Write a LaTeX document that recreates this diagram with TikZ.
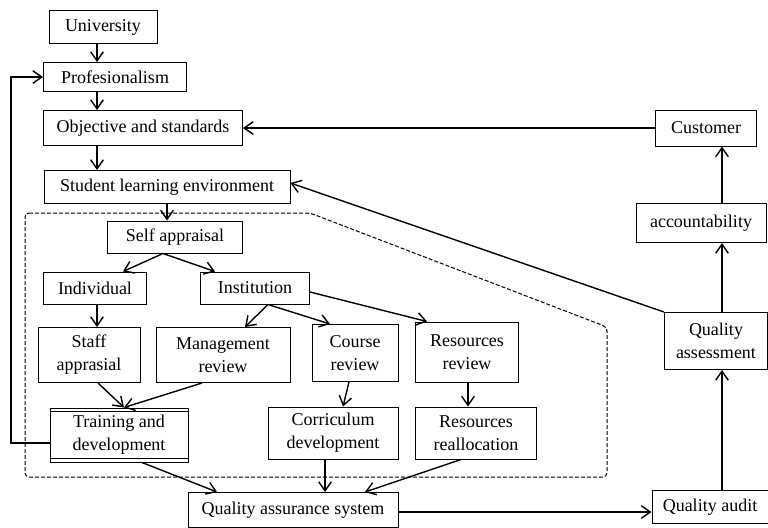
\documentclass[tikz,border=0pt]{standalone}
\usepackage{fontspec}
\setmainfont{Liberation Serif}
\usetikzlibrary{positioning,
        shapes,
        arrows.meta}

\begin{document}
\begin{tikzpicture}[x=0.5pt,y=-0.5pt,
        box/.style={draw,line width=0.5pt,inner sep=1pt,align=center,
                font=\fontsize{9}{11.5}\selectfont},
        arr/.style={line width=0.7pt,-{Straight Barb[angle=70:5.5pt,line width=0.7pt]}}]
        \useasboundingbox (0,0) rectangle (768,527);

        \node [box,minimum width=54pt,minimum height=16.5pt] (univ) at (103,27) {University};
        \node [box,minimum width=71.5pt,minimum height=14.5pt] (prof) at (115,77) {Profesionalism};
        \node [box,minimum width=99.5pt,minimum height=17.5pt] (obj) at (143,128) {Objective and standards};
        \node [box,minimum width=123pt,minimum height=16.5pt] (stud) at (167,187) {Student learning environment};
        \node [box,minimum width=67.5pt,minimum height=16pt] (self) at (175,237) {Self appraisal};
        \node [box,minimum width=51.5pt,minimum height=16pt] (indiv) at (95,288) {Individual};
        \node [box,minimum width=54.5pt,minimum height=16pt] (inst) at (255,288) {Institution};
        \node [box,minimum width=51pt,minimum height=27.5pt] (staff) at (89,355) {Staff\\apprasial};
        \node [box,minimum width=67pt,minimum height=27.5pt] (mgmt) at (223,355) {Management\\review};
        \node [box,minimum width=43pt,minimum height=28.5pt] (course) at (355,353) {Course\\review};
        \node [box,minimum width=51.5pt,minimum height=30pt] (resrev) at (467,352) {Resources\\review};
        \node [box,minimum width=69pt,minimum height=27pt] (train) at (119,435) {Training and\\development};
        \node [box,minimum width=65pt,minimum height=26pt] (curr) at (333,433) {Corriculum\\development};
        \node [box,minimum width=60.5pt,minimum height=26pt] (resall) at (476,433) {Resources\\reallocation};
        \node [box,minimum width=105pt,minimum height=17.5pt] (qas) at (293,510) {Quality assurance system};
        \node [box,minimum width=58pt,minimum height=16.5pt] (audit) at (710,507) {Quality audit};
        \node [box,minimum width=51.5pt,minimum height=28.5pt] (assess) at (716,341) {Quality\\assessment};
        \node [box,minimum width=65pt,minimum height=19.5pt] (acc) at (701,223) {accountability};
        \node [box,minimum width=50.5pt,minimum height=18pt] (cust) at (706,128) {Customer};

        % double rules of the training box
        \draw [line width=0.5pt] ([yshift=-1.8pt]train.north west) -- ([yshift=-1.8pt]train.north east);
        \draw [line width=0.5pt] ([yshift=1.8pt]train.south west) -- ([yshift=1.8pt]train.south east);

        % self appraisal area
        \draw [dash pattern=on 2pt off 1pt,line width=0.5pt,rounded corners=2pt] (25,213) -- (310,213)
                -- (607,327) -- (607,477) -- (25,477) -- cycle;

        \draw [arr] ([xshift=-3pt]univ.south) -- ([xshift=-3pt]univ.south |- prof.north);
        \draw [arr] ([xshift=-9pt]prof.south) -- ([xshift=-9pt]prof.south |- obj.north);
        \draw [arr] ([xshift=-23pt]obj.south) -- ([xshift=-23pt]obj.south |- stud.north);
        \draw [arr] (stud.south) -- (stud.south |- self.north);
        \draw [arr] ([xshift=-6pt]self.south) -- ([xshift=14pt]indiv.north);
        \draw [arr] ([xshift=-6pt]self.south) -- ([xshift=-20pt]inst.north);
        \draw [arr] ([xshift=1pt]indiv.south) -- ([xshift=1pt]indiv.south |- staff.north);
        \draw [arr] ([xshift=6.5pt]inst.south) -- ([xshift=11pt]mgmt.north);
        \draw [arr] ([xshift=6.5pt]inst.south) -- ([xshift=-12.5pt]course.north);
        \draw [arr] ([yshift=-2pt]inst.east) -- ([xshift=-20pt]resrev.north);
        \draw [arr] ([xshift=4.5pt]staff.south) -- ([xshift=2.5pt]train.north);
        \draw [arr] ([xshift=-10.5pt]mgmt.south) -- ([xshift=2.5pt]train.north);
        \draw [arr] ([xshift=-3pt]course.south) -- ([xshift=5pt]curr.north);
        \draw [arr] ([xshift=0.5pt]resrev.south) -- ([xshift=0.5pt]resrev.south |- resall.north);
        \draw [arr] ([xshift=11.5pt]train.south) -- ([xshift=-38pt]qas.north);
        \draw [arr] ([xshift=-4pt]curr.south) -- ([xshift=-4pt]curr.south |- qas.north);
        \draw [arr] ([xshift=-7.5pt]resall.south) -- ([xshift=36pt]qas.north);
        \draw [arr] ([yshift=-1pt]qas.east) -- ([yshift=-1pt]qas.east -| audit.west);
        \draw [arr] ([xshift=6pt]audit.north) -- ([xshift=6pt]audit.north |- assess.south);
        \draw [arr] ([xshift=3pt]assess.north) -- ([xshift=3pt]assess.north |- acc.south);
        \draw [arr] ([xshift=10.5pt]acc.north) -- ([xshift=10.5pt]acc.north |- cust.south);
        \draw [arr] (cust.west) -- (cust.west -| obj.east);
        \draw [arr] (assess.north west) -- ([yshift=2pt]stud.east);
        \draw [arr] ([yshift=-4pt]train.west) -| ([xshift=-16pt]prof.west) -- (prof.west);
\end{tikzpicture}
\end{document}
